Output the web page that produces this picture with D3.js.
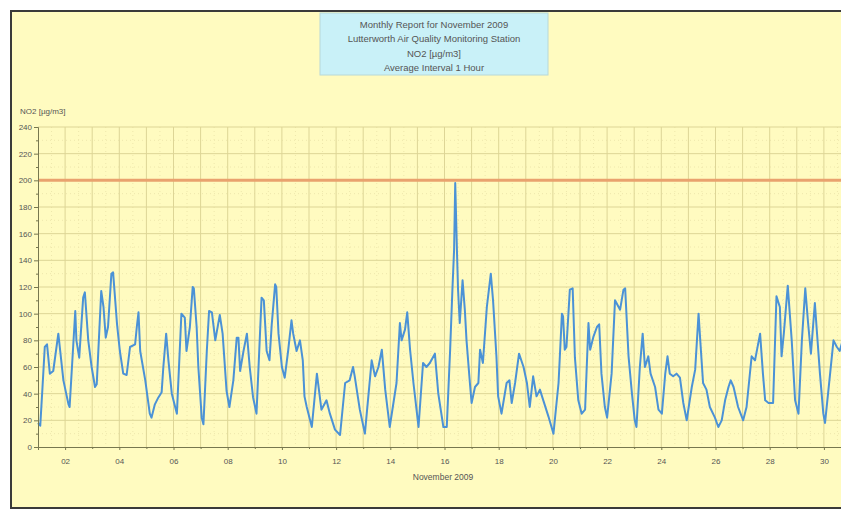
<!DOCTYPE html>
<html>
<head>
<meta charset="utf-8">
<script src="https://cdn.jsdelivr.net/npm/d3@7"></script>
<style>
  body { margin: 0; background: #fff; }
  text { font-family: "Liberation Sans", Arial, sans-serif; }
</style>
</head>
<body>
<svg></svg>
<script>
// hours since 1 Nov 2009 00:00 and the hourly NO2 reading (ug/m3) at that point
const hours = [0,2,4,6,8,10.5,13.5,18,22.5,27,28,33,34,36.5,40,41.5,44.5,47.5,50.5,52,56,58,60,62,65,66.5,70,72.5,75.5,78.5,
  81.5,86,87.5,89,90.5,95,99,100.5,103.5,106.5,109.5,111,113.5,115.5,118.5,123,127,130,131.5,134.5,137,138,140.5,142,145,146.5,
  149.5,151.5,154,157,159.5,161,163.5,167,169.5,173,176,177.5,179,182,185,187.5,190.5,193.5,198,200,202.5,205,207,210,211,213,
  216,218.5,221.5,224.5,226,229,232,234.5,236,238,242.5,247,251,255.5,258.5,263,267.5,272,276,279,280.5,285,289.5,295.5,298.5,
  301.5,304.5,307.5,311.5,317.5,320.5,322,325,327,329.5,332.5,337,341,344,347,351.5,354.5,359,362,365,367,368.5,369.5,371,372,
  373.5,376,378,379.5,382.5,384,387,390,391.5,394,397.5,401,403,406,407.5,410.5,415,417.5,419.5,422.5,426,430,433,435.5,438.5,
  441.5,444.5,447.5,452,456.5,461,464,465,466.5,468,471,473.5,475.5,478.5,481.5,484.5,487.5,489,492,495,497,499,502,504,508,
  511,515.5,518.5,520,523,526,528.5,530,533,535.5,537.5,540.5,542.5,546.5,549.5,552.5,555.5,557.5,559.5,562.5,565.5,568.5,571.5,
  574.5,579,582,585,586.5,589,592,595,599.5,602.5,605.5,608.5,611.5,613.5,616,620,624.5,627.5,632,635,639.5,642,644,647,651,
  654,657,658.5,660.5,664,667.5,670.5,673.5,676.5,679.5,682,684.5,688,689.5,692.5,695.5,697,701.5,704.5,707.5,710,712];
const no2 = [18,16,45,75,77,55,57,85,50,32,30,102,80,67,112,116,80,60,45,47,117,105,82,90,130,131,92,72,55,54,
  75,77,90,101,72,50,25,22,32,37,41,60,85,65,40,25,100,97,72,90,120,119,90,60,22,17,
  72,102,101,80,92,99,85,42,30,50,82,82,57,72,85,60,37,25,112,110,72,65,92,122,120,85,
  60,52,72,95,85,72,80,65,38,30,15,55,28,35,25,13,9,48,50,60,53,28,10,65,53,
  60,73,43,15,48,93,80,88,101,73,48,15,63,60,63,70,40,15,15,73,118,148,198,148,118,
  93,125,103,80,48,33,45,48,73,63,105,130,110,68,38,25,48,50,33,48,70,60,48,30,53,
  38,43,35,23,10,48,100,98,73,75,118,119,67,35,25,28,93,73,83,90,92,55,30,22,55,
  110,103,118,119,68,40,20,15,60,85,60,68,55,45,28,25,55,68,55,53,55,52,33,
  20,45,58,100,80,48,43,30,22,15,20,35,45,50,45,30,20,30,68,65,85,55,35,33,33,
  113,105,68,85,121,80,35,25,80,119,93,70,108,90,55,25,18,55,80,75,72,78];

const yTicks = [0,20,40,60,80,100,120,140,160,180,200,220,240];
const dayLabels = ['02','04','06','08','10','12','14','16','18','20','22','24','26','28','30'];
const titleLines = ['Monthly Report for November 2009', 'Lutterworth Air Quality Monitoring Station',
  'NO2 [\u00b5g/m3]', 'Average Interval 1 Hour'];
const limitValue = 200;

const WIDTH = 841, HEIGHT = 511;
const svg = d3.select('svg').attr('width', WIDTH).attr('height', HEIGHT);

// outer frame, cut by the right edge like the source
svg.append('rect').attr('x', 11).attr('y', 11).attr('width', 900).attr('height', 497)
  .attr('fill', '#fffbc0').attr('stroke', '#3a3a3a').attr('stroke-width', 2);

const x = d3.scaleLinear().domain([0, 720]).range([38, 851]);
const y = d3.scaleLinear().domain([0, 240]).range([447, 127]);

const grid = svg.append('g');
// minor grid: every 10 units and every 12 hours
grid.selectAll('.hm').data(d3.range(10, 240, 20)).enter().append('line')
  .attr('x1', 38).attr('x2', WIDTH).attr('y1', d => y(d)).attr('y2', d => y(d))
  .attr('stroke', '#eee7ac').attr('stroke-dasharray', '1,3');
grid.selectAll('.vm').data(d3.range(12, 720, 24)).enter().append('line')
  .attr('y1', 127).attr('y2', 447).attr('x1', d => x(d)).attr('x2', d => x(d))
  .attr('stroke', '#eee7ac').attr('stroke-dasharray', '1,3');
// major grid
grid.selectAll('.h').data(yTicks.slice(1)).enter().append('line')
  .attr('x1', 38).attr('x2', WIDTH).attr('y1', d => y(d)).attr('y2', d => y(d))
  .attr('stroke', '#ddd596');
grid.selectAll('.v').data(d3.range(24, 720, 24)).enter().append('line')
  .attr('y1', 127).attr('y2', 447).attr('x1', d => x(d)).attr('x2', d => x(d))
  .attr('stroke', '#ddd596');

// limit line
svg.append('line').attr('x1', 38).attr('x2', WIDTH)
  .attr('y1', y(limitValue)).attr('y2', y(limitValue))
  .attr('stroke', '#e9a26e').attr('stroke-width', 3);

// data line
const pts = hours.map((h, i) => [h, no2[i]]);
svg.append('path').datum(pts)
  .attr('fill', 'none').attr('stroke', '#4b92d6').attr('stroke-width', 2)
  .attr('stroke-linejoin', 'round')
  .attr('d', d3.line().x(d => x(d[0])).y(d => y(d[1])));

// axes
const yAxis = d3.axisLeft(y).tickValues(yTicks).tickSize(4).tickPadding(2);
svg.append('g').attr('transform', 'translate(38,0)').call(yAxis);
svg.append('g').attr('transform', 'translate(38,0)')
  .call(d3.axisLeft(y).tickValues(d3.range(10, 240, 20)).tickSize(2).tickFormat(''))
  .select('.domain').remove();

const xAxis = d3.axisBottom(x).tickValues(d3.range(24, 720, 48)).tickSize(3).tickPadding(8)
  .tickFormat((d, i) => dayLabels[i]);
svg.append('g').attr('transform', 'translate(0,447)').call(xAxis);
svg.append('g').attr('transform', 'translate(0,447)')
  .call(d3.axisBottom(x).tickValues(d3.range(48, 720, 48)).tickSize(2).tickFormat(''))
  .select('.domain').remove();

svg.selectAll('.domain').attr('stroke', '#77774f');
svg.selectAll('.tick line').attr('stroke', '#77774f');
svg.selectAll('.tick text').attr('fill', '#555').attr('font-size', 8)
  .attr('font-family', '"Liberation Sans", Arial, sans-serif');

// axis titles
svg.append('text').attr('x', 20).attr('y', 114).attr('font-size', 8).attr('fill', '#555')
  .text('NO2 [\u00b5g/m3]');
svg.append('text').attr('x', 443).attr('y', 480).attr('text-anchor', 'middle')
  .attr('font-size', 8.5).attr('fill', '#555').text('November 2009');

// title box
svg.append('rect').attr('x', 320).attr('y', 13).attr('width', 228).attr('height', 62)
  .attr('fill', '#c9f1f8').attr('stroke', '#b8d8d8');
svg.selectAll('.title').data(titleLines).enter().append('text')
  .attr('x', 434).attr('y', (d, i) => 28 + i * 14.3)
  .attr('text-anchor', 'middle').attr('font-size', 9.5).attr('fill', '#555')
  .text(d => d);
</script>
</body>
</html>
